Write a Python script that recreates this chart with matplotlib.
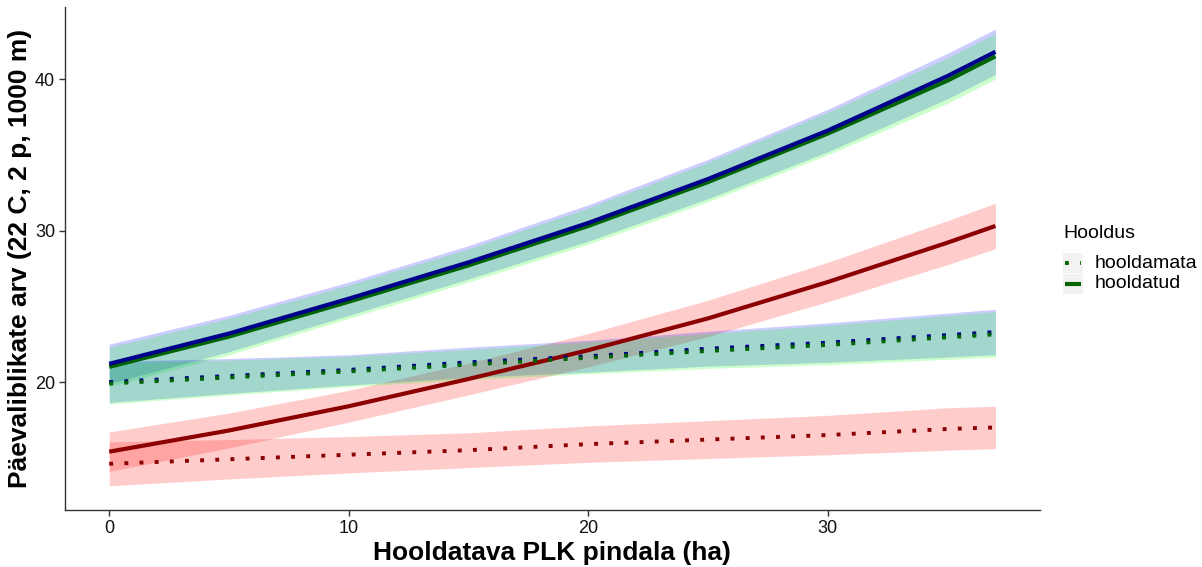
import matplotlib.pyplot as plt
from matplotlib.lines import Line2D
from matplotlib.patches import Rectangle

plt.rcParams['font.family'] = ['Liberation Sans', 'DejaVu Sans']

# x positions (ha)
area = [0, 5, 10, 15, 20, 25, 30, 35, 37]

# hooldatud (solid) - blue and green model fits
blue_solid = [21.2, 23.2, 25.5, 27.9, 30.5, 33.4, 36.6, 40.2, 41.8]
blue_solid_lo = [19.9, 22.0, 24.4, 26.8, 29.3, 32.1, 35.2, 38.7, 40.3]
blue_solid_hi = [22.5, 24.4, 26.6, 29.0, 31.7, 34.7, 38.0, 41.7, 43.3]
green_solid = [21.0, 23.0, 25.3, 27.7, 30.3, 33.2, 36.4, 39.9, 41.5]
green_solid_lo = [19.7, 21.8, 24.2, 26.6, 29.1, 31.9, 35.0, 38.4, 40.0]
green_solid_hi = [22.3, 24.2, 26.4, 28.8, 31.5, 34.5, 37.8, 41.4, 43.0]

# hooldamata (dotted)
blue_dot = [20.0, 20.4, 20.8, 21.3, 21.7, 22.2, 22.6, 23.1, 23.3]
blue_dot_lo = [18.65, 19.25, 19.8, 20.3, 20.65, 21.05, 21.3, 21.65, 21.8]
blue_dot_hi = [21.35, 21.55, 21.8, 22.3, 22.75, 23.35, 23.9, 24.55, 24.8]
green_dot = [19.9, 20.3, 20.7, 21.15, 21.6, 22.05, 22.45, 22.95, 23.15]
green_dot_lo = [18.55, 19.15, 19.7, 20.15, 20.55, 20.9, 21.15, 21.5, 21.65]
green_dot_hi = [21.25, 21.45, 21.7, 22.15, 22.65, 23.2, 23.75, 24.4, 24.65]

# red series
red_solid = [15.4, 16.8, 18.4, 20.2, 22.1, 24.2, 26.6, 29.2, 30.3]
red_solid_lo = [14.1, 15.65, 17.35, 19.15, 21.0, 23.0, 25.3, 27.75, 28.8]
red_solid_hi = [16.7, 17.95, 19.45, 21.25, 23.2, 25.4, 27.9, 30.65, 31.8]
red_dot = [14.6, 14.9, 15.2, 15.5, 15.9, 16.2, 16.5, 16.9, 17.0]
red_dot_lo = [13.15, 13.6, 14.0, 14.35, 14.7, 14.95, 15.2, 15.5, 15.6]
red_dot_hi = [16.05, 16.2, 16.4, 16.65, 17.1, 17.45, 17.8, 18.3, 18.4]

fig = plt.figure(figsize=(12.02, 5.67), dpi=100)
ax = fig.add_axes([0.054, 0.1005, 0.811, 0.887])

a = 0.2
ax.fill_between(area, red_solid_lo, red_solid_hi, color='red', alpha=a, lw=0)
ax.fill_between(area, red_dot_lo, red_dot_hi, color='red', alpha=a, lw=0)
ax.fill_between(area, blue_solid_lo, blue_solid_hi, color='blue', alpha=a, lw=0)
ax.fill_between(area, green_solid_lo, green_solid_hi, color='#00ff00', alpha=a, lw=0)
ax.fill_between(area, blue_dot_lo, blue_dot_hi, color='blue', alpha=a, lw=0)
ax.fill_between(area, green_dot_lo, green_dot_hi, color='#00ff00', alpha=a, lw=0)

dots = (0, (1, 2.9))
lw_solid = 3.0
lw_dot = 2.8
ax.plot(area, red_solid, color='#8b0000', lw=lw_solid, solid_capstyle='butt')
ax.plot(area, red_dot, color='#8b0000', lw=lw_dot, linestyle=dots, dash_capstyle='butt')
ax.plot(area, green_solid, color='#006400', lw=lw_solid, solid_capstyle='butt')
ax.plot(area, blue_solid, color='#00008b', lw=lw_solid, solid_capstyle='butt')
ax.plot(area, blue_dot, color='#00008b', lw=lw_dot, linestyle=dots, dash_capstyle='butt')
ax.plot(area, green_dot, color='#006400', lw=lw_dot, linestyle=dots, dash_capstyle='butt')

ax.set_xlim(-1.85, 38.85)
ax.set_ylim(11.55, 44.75)
ax.set_xticks([0, 10, 20, 30])
ax.set_yticks([20, 30, 40])
for s in ['top', 'right']:
    ax.spines[s].set_visible(False)
for s in ['left', 'bottom']:
    ax.spines[s].set_color('#333333')
    ax.spines[s].set_linewidth(1.0)
ax.tick_params(axis='both', length=4, width=1, color='#333333',
               labelsize=13, labelcolor='#111111', pad=3)

ax.set_xlabel('Hooldatava PLK pindala (ha)', fontsize=19, fontweight='bold', labelpad=3)
ax.set_ylabel('Päevaliblikate arv (22 C, 2 p, 1000 m)', fontsize=19, fontweight='bold', labelpad=2)

# legend drawn by hand to get ggplot-like grey key boxes
fig.text(1063 / 1202, 1 - 234 / 567, 'Hooldus', fontsize=14, va='center', ha='left')
keys = [('hooldamata', dots, lw_dot, 263), ('hooldatud', '-', lw_solid, 284)]
for label, ls, lw, yc in keys:
    y0 = 1 - (yc + 10) / 567
    fig.add_artist(Rectangle((1063 / 1202, y0), 20 / 1202, 20 / 567,
                             transform=fig.transFigure, color='#f2f2f2', lw=0))
    yf = 1 - yc / 567
    fig.add_artist(Line2D([1065 / 1202, 1081 / 1202], [yf, yf], transform=fig.transFigure,
                          color='#006400', lw=lw, linestyle=ls,
                          dash_capstyle='butt', solid_capstyle='butt'))
    fig.text(1095 / 1202, yf, label, fontsize=14, va='center', ha='left')

fig.savefig('out.png', dpi=100)
